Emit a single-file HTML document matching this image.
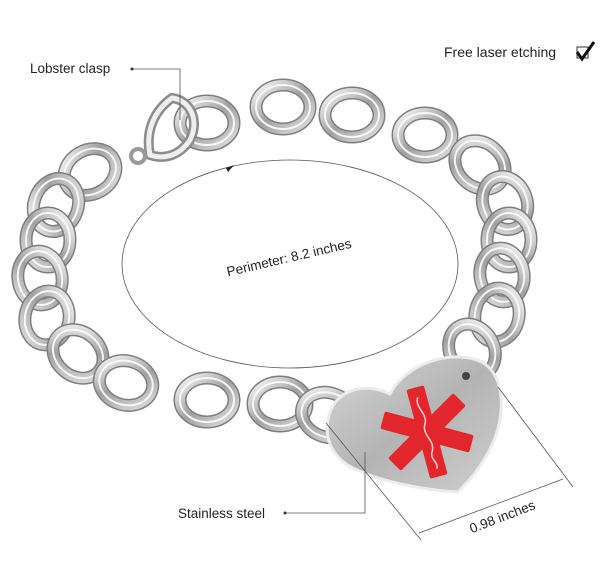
<!DOCTYPE html>
<html><head><meta charset="utf-8"><style>
html,body{margin:0;padding:0;background:#fff;}
svg{display:block;}
text{font-family:"Liberation Sans",sans-serif;fill:#222;}
</style></head><body>
<svg width="600" height="588" viewBox="0 0 600 588" xmlns="http://www.w3.org/2000/svg">
<defs>
<linearGradient id="steel" x1="0" y1="0" x2="1" y2="1">
<stop offset="0" stop-color="#f6f6f6"/><stop offset="0.5" stop-color="#a0a0a0"/><stop offset="1" stop-color="#dedede"/>
</linearGradient>
<linearGradient id="heart" x1="0" y1="0" x2="1" y2="1">
<stop offset="0" stop-color="#d6d6d6"/><stop offset="0.5" stop-color="#b4b4b4"/><stop offset="1" stop-color="#cfcfcf"/>
</linearGradient>
<g id="lk">
<ellipse rx="27" ry="22" fill="none" stroke="#7e7e7e" stroke-width="13"/>
<ellipse rx="27" ry="22" fill="none" stroke="url(#steel)" stroke-width="10"/>
<ellipse rx="27" ry="22" fill="none" stroke="#fcfcfc" stroke-width="2" opacity="0.9"/>
</g>
</defs>

<ellipse cx="290" cy="264" rx="168" ry="104" fill="none" stroke="#555" stroke-width="0.8"/>
<polygon points="226,168 234,165 228,172" fill="#222"/>
<text x="290" y="262" font-size="13.5" text-anchor="middle" transform="rotate(-13 290 262)">Perimeter: 8.2 inches</text>

<use href="#lk" x="207" y="123"/>
<use href="#lk" x="283" y="107"/>
<use href="#lk" x="352" y="115"/>
<use href="#lk" x="425" y="135"/>
<use href="#lk" x="480" y="165" transform="rotate(40 480 165)"/>
<use href="#lk" x="505" y="203" transform="rotate(70 505 203)"/>
<use href="#lk" x="509" y="240" transform="rotate(90 509 240)"/>
<use href="#lk" x="502" y="275" transform="rotate(80 502 275)"/>
<use href="#lk" x="497" y="315" transform="rotate(100 497 315)"/>
<use href="#lk" x="472" y="350" transform="rotate(60 472 350)"/>
<use href="#lk" x="90" y="172" transform="rotate(-30 90 172)"/>
<use href="#lk" x="56" y="205" transform="rotate(-70 56 205)"/>
<use href="#lk" x="48" y="240" transform="rotate(90 48 240)"/>
<use href="#lk" x="40" y="278" transform="rotate(80 40 278)"/>
<use href="#lk" x="47" y="318" transform="rotate(100 47 318)"/>
<use href="#lk" x="78" y="354" transform="rotate(40 78 354)"/>
<use href="#lk" x="126" y="383" transform="rotate(15 126 383)"/>
<use href="#lk" x="207" y="400"/>
<use href="#lk" x="280" y="404"/>
<use href="#lk" x="328" y="415" transform="rotate(20 328 415)"/>
<path d="M150,155 C145,130 155,110 172,98 C190,100 200,120 190,140 C180,155 165,160 150,155 Z" fill="none" stroke="#8c8c8c" stroke-width="10"/>
<path d="M150,155 C145,130 155,110 172,98 C190,100 200,120 190,140 C180,155 165,160 150,155 Z" fill="none" stroke="#eee" stroke-width="5"/>
<circle cx="138" cy="156" r="7" fill="none" stroke="#999" stroke-width="4"/>

<path d="M328,420 C332,392 362,380 390,394 C405,364 452,348 482,362 C508,378 504,420 492,445 C482,466 470,480 458,492 C420,490 372,480 346,464 C330,452 325,436 328,420 Z" fill="url(#heart)" stroke="#ececec" stroke-width="3"/>
<circle cx="466" cy="376" r="4" fill="#444"/>
<g transform="translate(427 432) rotate(-15)" fill="#e3262b">
<rect x="-9" y="-46" width="18" height="92" rx="2"/>
<rect x="-9" y="-46" width="18" height="92" rx="2" transform="rotate(60)"/>
<rect x="-9" y="-46" width="18" height="92" rx="2" transform="rotate(120)"/>
<path d="M0,-36 C-6,-26 6,-18 0,-8 C-6,2 6,10 0,20 C-5,28 4,32 0,38" fill="none" stroke="#f6c9c9" stroke-width="1.6"/>
</g>

<text x="30" y="73" font-size="13.5">Lobster clasp</text>
<polyline points="132,69 180,69 180,120" fill="none" stroke="#555" stroke-width="0.8"/>
<circle cx="132" cy="69" r="1.5" fill="#333"/>

<text x="444" y="57" font-size="14">Free laser etching</text>
<rect x="577" y="47" width="11" height="11" fill="none" stroke="#333" stroke-width="1"/>
<path d="M577,52 L582,59 L594,42" fill="none" stroke="#111" stroke-width="3"/>

<text x="178" y="518" font-size="13.5">Stainless steel</text>
<polyline points="285,513 365,513 365,452" fill="none" stroke="#555" stroke-width="0.8"/>
<circle cx="285" cy="513" r="1.5" fill="#333"/>

<line x1="326" y1="423" x2="421" y2="540" stroke="#555" stroke-width="0.8"/>
<line x1="498" y1="387" x2="573" y2="487" stroke="#555" stroke-width="0.8"/>
<line x1="419" y1="533" x2="563" y2="479" stroke="#555" stroke-width="0.8"/>
<text x="504" y="521" font-size="13.5" text-anchor="middle" transform="rotate(-21 504 521)">0.98 inches</text>
</svg>
</body></html>
